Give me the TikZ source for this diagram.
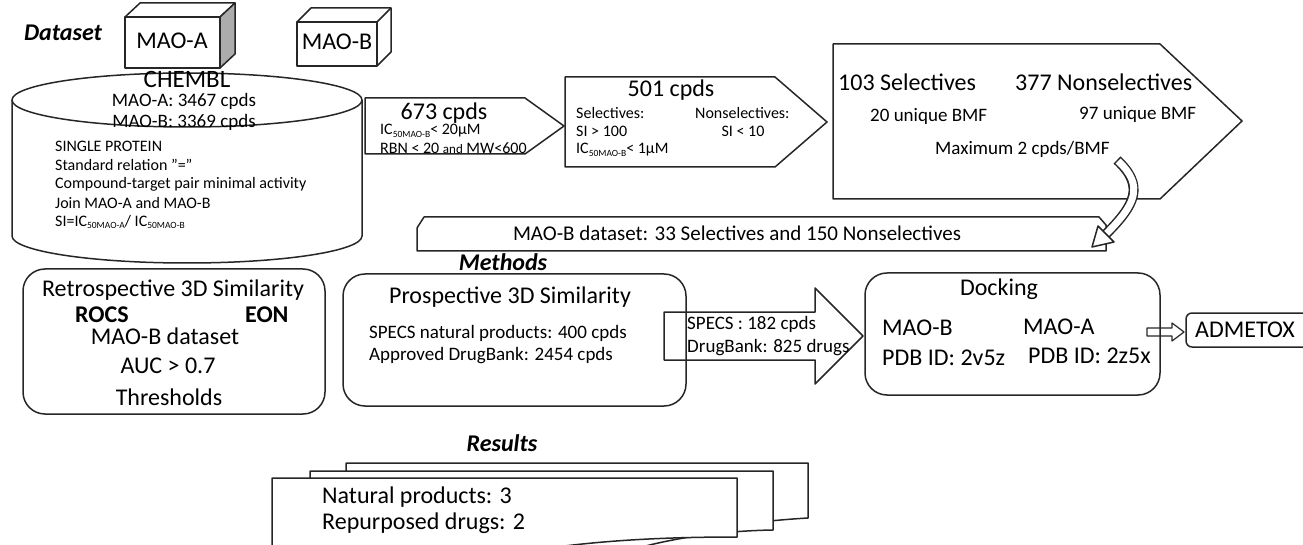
\documentclass[tikz,border=0pt]{standalone}
\usepackage{fontspec}
\setmainfont{Carlito}
\usetikzlibrary{arrows.meta}
\usetikzlibrary{calc}
\colorlet{sideface}{gray!65}
\colorlet{edge}{black!85}
\newcommand{\subsc}[1]{\raisebox{-0.35ex}{\fontsize{9.5}{10}\selectfont #1}}

\tikzset{
  big/.style={font=\fontsize{24}{28}\selectfont, inner sep=0pt},
  mid/.style={font=\fontsize{19}{22}\selectfont, inner sep=0pt},
  small/.style={font=\fontsize{16}{19}\selectfont, inner sep=0pt, anchor=west},
  heading/.style={font=\fontsize{24}{28}\selectfont\bfseries\itshape, inner sep=0pt},
  outline/.style={draw=edge, line width=1.5pt, line join=round},
  roundbox/.style={outline, rounded corners=22pt},
}

\begin{document}
\begin{tikzpicture}[x=1pt,y=-1pt]
        \useasboundingbox (0,0) rectangle (1303,545);
        \clip (0,0) rectangle (1303,545);
        % section titles
        \node[heading] (dataset) at (63,33) {Dataset};
        \node[heading] (methods) at (503,262) {Methods};
        \node[heading] (results) at (502,443) {Results};
        % MAO-A cube with shaded side
        \draw[outline] (125,17) -- (140,3) -- (235,3) -- (220,17);
        \draw[outline, fill=sideface] (220,17) -- (235,3) -- (235,54) -- (220,68) -- cycle;
        \draw[outline] (125,17) rectangle (220,68);
        \node[big] (maoa) at (172,41) {MAO-A};
        % MAO-B cube
        \draw[outline] (297,22) -- (311,8) -- (391,8) -- (391,52) -- (377,66);
        \draw[outline] (377,22) -- (391,8);
        \draw[outline] (297,22) rectangle (377,66);
        \node[big] (maob) at (337,42) {MAO-B};
        % CHEMBL cylinder
        \draw[outline] (187,100) ellipse (175 and 27);
        \draw[outline] (12,100) -- (12,236)
            arc[start angle=180, end angle=0, x radius=175, y radius=27] -- (362,100);
        \node[font=\fontsize{25}{28}\selectfont, inner sep=0pt] (chembl) at (187,79) {CHEMBL};
        \node[mid] (counta) at (184,101) {MAO-A: 3467 cpds};
        \node[mid] (countb) at (184,122) {MAO-B: 3369 cpds};
        \foreach \txt [count=\i] in {SINGLE PROTEIN, Standard relation "=",
            Compound-target pair minimal activity, Join MAO-A and MAO-B}
        {
            \node[small] (rule\i) at (55,127+19*\i) {\txt};
        }
        \node[small] (rule5) at (55,222) {SI=IC\subsc{50MAO-A}/ IC\subsc{50MAO-B}};
        % filter steps as pentagon arrows
        \draw[outline] (365,98) -- (525,98) -- (564,126) -- (525,154) -- (365,154) -- cycle;
        \node[big] (n673) at (444,113) {673 cpds};
        \node[small] (ic20) at (380,131) {IC\subsc{50MAO-B}< 20µM};
        \node[small] (rbn) at (380,148) {RBN < 20 {\fontsize{13}{15}\selectfont and} MW<600};
        \draw[outline] (565,77) -- (775,77) -- (827,122) -- (775,167) -- (565,167) -- cycle;
        \node[big] (n501) at (671,90) {501 cpds};
        \node[small] (sel) at (576,113) {Selectives:};
        \node[small] (nonsel) at (695,113) {Nonselectives:};
        \node[small] (si100) at (576,131) {SI > 100};
        \node[small, anchor=center] (si10) at (743,131) {SI < 10};
        \node[small] (ic1) at (576,150) {IC\subsc{50MAO-B}< 1µM};
        \draw[outline] (833,44) -- (1160,44) -- (1242,121) -- (1160,199) -- (833,199) -- cycle;
        \node[big, anchor=west] (n103) at (838,82) {103 Selectives};
        \node[big, anchor=west] (n377) at (1015,82) {377 Nonselectives};
        \node[mid, anchor=west] (bmf20) at (870,116) {20 unique BMF};
        \node[mid, anchor=west] (bmf97) at (1079,114) {97 unique BMF};
        \node[mid, anchor=west] (maxbmf) at (935,149) {Maximum 2 cpds/BMF};
        % final dataset banner
        \draw[outline] (417,228) -- (424,217) -- (1099,217) -- (1106,225) -- (1106,251) -- (417,251) -- cycle;
        \node[font=\fontsize{21}{24}\selectfont, inner sep=0pt] (final) at (737,233)
            {MAO-B dataset: 33 Selectives and 150 Nonselectives};
        % hollow curved arrow into the banner
        \coordinate (ctail) at (1117,160);
        \coordinate (chead) at (1106,234);
        \draw[edge, line width=10pt] (ctail) .. controls (1145,186) and (1135,205) .. (chead);
        \draw[white, line width=7pt, shorten <=1.5pt] (ctail) .. controls (1145,186) and (1135,205) .. (chead);
        \draw[outline, fill=white] (1114,242) -- (1092,247) -- (1098,226) -- cycle;
        % methods boxes
        \draw[roundbox] (23,269) rectangle (325,414);
        \node[big] (retro) at (173,290) {Retrospective 3D Similarity};
        \node[big, font=\fontsize{24}{28}\selectfont\bfseries, anchor=west] (rocs) at (75,315) {ROCS};
        \node[big, font=\fontsize{24}{28}\selectfont\bfseries, anchor=west] (eon) at (245,315) {EON};
        \node[big] (retroset) at (165,336) {MAO-B dataset};
        \node[big] (auc) at (168,366) {AUC > 0.7};
        \node[big] (thr) at (169,397) {Thresholds};
        \draw[roundbox] (343,274) rectangle (686,406);
        \node[big] (prosp) at (510,297) {Prospective 3D Similarity};
        \node[mid, anchor=west] (specs) at (369,333) {SPECS natural products: 400 cpds};
        \node[mid, anchor=west] (dbank) at (369,356) {Approved DrugBank: 2454 cpds};
        % block arrow to docking
        \draw[outline] (664,312) -- (815,312) -- (815,288) -- (863,336) -- (815,384) -- (815,360) -- (664,360) -- cycle;
        \node[mid, anchor=west] (hits1) at (687,324) {SPECS : 182 cpds};
        \node[mid, anchor=west] (hits2) at (687,348) {DrugBank: 825 drugs};
        \draw[roundbox] (865,273) rectangle (1160,395);
        \node[big] (dock) at (999,289) {Docking};
        \node[big, anchor=west] (dockb) at (882,328) {MAO-B};
        \node[big, anchor=west] (docka) at (1023,327) {MAO-A};
        \node[big, anchor=west] (pdbb) at (882,358) {PDB ID: 2v5z};
        \node[big, anchor=west] (pdba) at (1028,356) {PDB ID: 2z5x};
        % small hollow arrow to ADMETOX
        \draw[outline, line width=1.2pt] (1147,328) -- (1172,328) -- (1172,323) -- (1184,332)
            -- (1172,341) -- (1172,336) -- (1147,336) -- cycle;
        \draw[outline, rounded corners=6pt] (1186,313) rectangle (1312,347);
        \node[big, anchor=west] (admet) at (1195,330) {ADMETOX};
        % results as a stack of pages
        \draw[outline, fill=white] (346,560) -- (346,463) -- (808,463) -- (808,518)
            .. controls (740,522) and (680,532) .. (600,560) -- cycle;
        \draw[outline, fill=white] (310,560) -- (310,471) -- (773,471) -- (773,530)
            .. controls (720,531) and (660,538) .. (600,560) -- cycle;
        \draw[outline, fill=white] (272,560) -- (272,478) -- (737,478) -- (737,537)
            .. controls (640,537) and (560,543) .. (480,560) -- cycle;
        \node[big, anchor=west] (nat) at (322,497) {Natural products: 3};
        \node[big, anchor=west] (repurp) at (322,523) {Repurposed drugs: 2};
\end{tikzpicture}
\end{document}
